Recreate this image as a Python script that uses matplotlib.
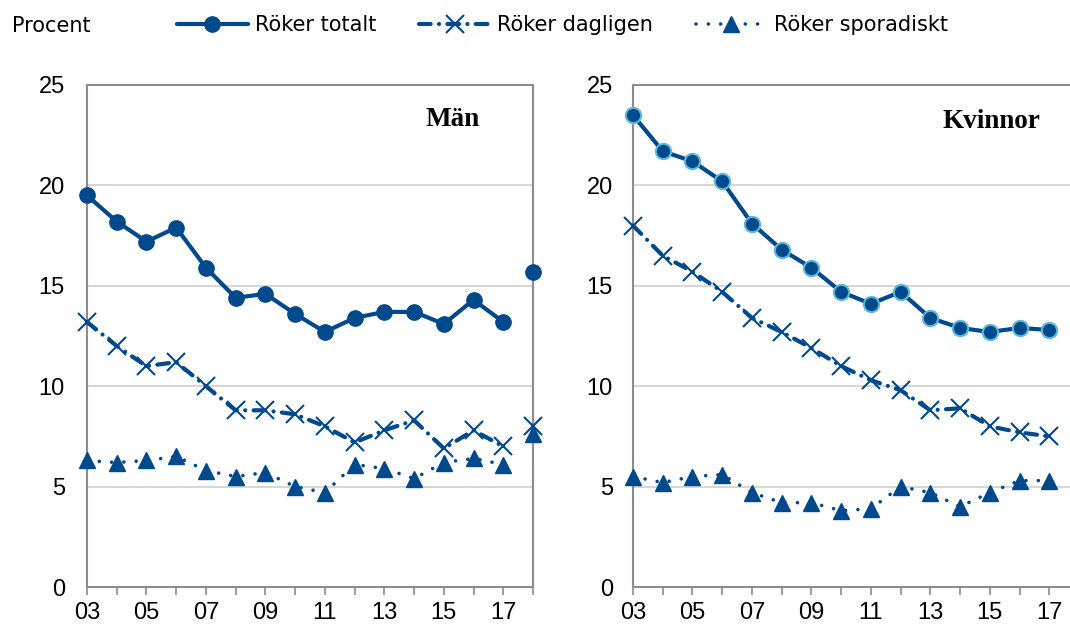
import matplotlib
matplotlib.use("Agg")
import matplotlib.pyplot as plt
from matplotlib.lines import Line2D
import numpy as np

plt.rcParams['font.family'] = ['Liberation Sans', 'DejaVu Sans']

years = [3, 4, 5, 6, 7, 8, 9, 10, 11, 12, 13, 14, 15, 16, 17, 18]
year_labels = ['03', '', '05', '', '07', '', '09', '', '11', '', '13', '', '15', '', '17', '']

man_totalt = [19.5, 18.2, 17.2, 17.9, 15.9, 14.4, 14.6, 13.6, 12.7, 13.4, 13.7, 13.7, 13.1, 14.3, 13.2, 15.7]
man_dagligen = [13.2, 12.0, 11.0, 11.2, 10.0, 8.8, 8.8, 8.6, 8.0, 7.2, 7.8, 8.3, 6.9, 7.8, 7.0, 8.0]
man_sporadiskt = [6.3, 6.2, 6.3, 6.5, 5.8, 5.5, 5.7, 5.0, 4.7, 6.1, 5.9, 5.4, 6.2, 6.4, 6.1, 7.6]

kv_years = [3, 4, 5, 6, 7, 8, 9, 10, 11, 12, 13, 14, 15, 16, 17]
kv_totalt = [23.5, 21.7, 21.2, 20.2, 18.1, 16.8, 15.9, 14.7, 14.1, 14.7, 13.4, 12.9, 12.7, 12.9, 12.8]
kv_dagligen = [18.0, 16.5, 15.7, 14.7, 13.4, 12.7, 11.9, 11.0, 10.3, 9.8, 8.8, 8.9, 8.0, 7.7, 7.5]
kv_sporadiskt = [5.5, 5.2, 5.5, 5.6, 4.7, 4.2, 4.2, 3.8, 3.9, 5.0, 4.7, 4.0, 4.7, 5.3, 5.3]

series_labels = ['Röker totalt', 'Röker dagligen', 'Röker sporadiskt']
yticks = [0, 5, 10, 15, 20, 25]

BLUE = '#00498C'
EDGE_LIGHT = '#5BB8D6'
GRID = '#D0D0D0'
SPINE = '#8C8C8C'

W, H = 1070, 624
fig = plt.figure(figsize=(W / 100, H / 100), dpi=100)

def px_axes(left, top, right, bottom):
    return fig.add_axes([left / W, 1 - bottom / H, (right - left) / W, (bottom - top) / H])

ax1 = px_axes(87, 85, 533, 587)
ax2 = px_axes(633, 85, 1079, 587)

dash_style = dict(linestyle=(0, (2.8, 2.0, 0.01, 2.0)), dash_capstyle='round')
dot_style = dict(linestyle=(0, (0.01, 3.4)), dash_capstyle='round')

def style_line(kind):
    if kind == 0:
        return dict(color=BLUE, lw=3.0, marker='o', markersize=11, solid_capstyle='round')
    if kind == 1:
        d = dict(color=BLUE, lw=3.0, marker='x', markersize=13, markeredgewidth=1.5)
        d.update(dash_style)
        return d
    d = dict(color=BLUE, lw=2.6, marker='^', markersize=11)
    d.update(dot_style)
    return d

def draw(ax, xs, series, connect_last, circle_edge):
    for k, ys in enumerate(series):
        st = style_line(k)
        if k == 0 and circle_edge is not None:
            st['markeredgecolor'] = circle_edge
            st['markeredgewidth'] = 1.5
        if connect_last:
            ax.plot(xs, ys, zorder=3, clip_on=False, **st)
        else:
            ax.plot(xs[:-1], ys[:-1], zorder=3, clip_on=False, **st)
            st2 = dict(st)
            st2['linestyle'] = 'none'
            ax.plot(xs[-1:], ys[-1:], zorder=3, clip_on=False, **st2)

draw(ax1, years, [man_totalt, man_dagligen, man_sporadiskt], False, None)
draw(ax2, kv_years, [kv_totalt, kv_dagligen, kv_sporadiskt], True, EDGE_LIGHT)

for ax, pad in ((ax1, 16), (ax2, 14.4)):
    ax.set_xlim(3, 18)
    ax.set_ylim(0, 25)
    ax.set_yticks(yticks)
    ax.set_xticks(years)
    ax.set_xticklabels(year_labels)
    ax.grid(axis='y', color=GRID, lw=1.2)
    ax.set_axisbelow(True)
    for s in ax.spines.values():
        s.set_color(SPINE)
        s.set_linewidth(1.5)
    ax.tick_params(axis='y', length=0, pad=pad, labelsize=17)
    ax.tick_params(axis='x', length=5.5, width=1.2, color=SPINE, direction='out', pad=5, labelsize=17)

ax2.set_xticks(kv_years)
ax2.set_xticklabels(year_labels[:-1])
ax2.spines['right'].set_visible(False)

serif = ['Liberation Serif', 'DejaVu Serif']
fig.text(452.5 / W, 1 - 126 / H, 'Män', family=serif, fontweight='bold', fontsize=19.5,
         ha='center', va='baseline')
fig.text(991.5 / W, 1 - 128 / H, 'Kvinnor', family=serif, fontweight='bold', fontsize=19.5,
         ha='center', va='baseline')

hdr_font = ['DejaVu Sans']
fig.text(12 / W, 1 - 26 / H, 'Procent', family=hdr_font, fontsize=15, ha='left', va='center')

handles = []
for k in range(3):
    st = style_line(k)
    handles.append(Line2D([0, 1], [0, 0], **st))
leg = fig.legend(handles, series_labels, loc='center left', bbox_to_anchor=(177 / W, 1 - 25 / H),
                 ncol=3, frameon=False, prop={'family': hdr_font, 'size': 15},
                 handlelength=3.4, handletextpad=0.34, columnspacing=2.06,
                 borderpad=0, borderaxespad=0, markerscale=1.0)
for lh in leg.legend_handles:
    lh.set_markevery([1])

fig.savefig('out.png', dpi=100)
